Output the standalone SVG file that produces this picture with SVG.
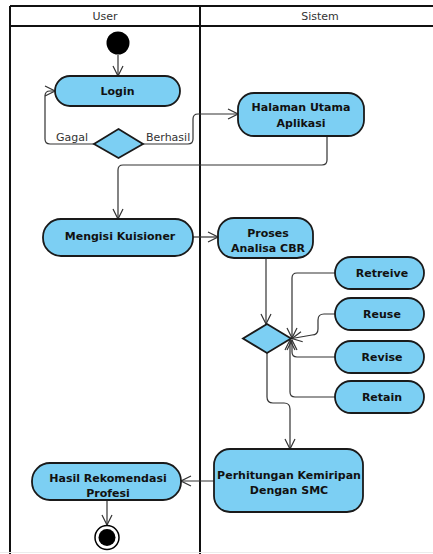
<svg xmlns="http://www.w3.org/2000/svg" width="433" height="554" viewBox="0 0 433 554">
  <style>
    .lane { stroke: #111; stroke-width: 2; fill: none; }
    .hdr { font-family: "DejaVu Sans", sans-serif; font-size: 11px; fill: #333; text-anchor: middle; }
    .act { fill: #7ccff3; stroke: #1a1a1a; stroke-width: 1.8; }
    .lbl { font-family: "DejaVu Sans", sans-serif; font-size: 11px; font-weight: bold; fill: #111; text-anchor: middle; }
    .guard { font-family: "DejaVu Sans", sans-serif; font-size: 11px; fill: #333; }
    .flow { fill: none; stroke: #333; stroke-width: 1.2; marker-end: url(#open); }
  </style>
  <defs>
    <marker id="open" viewBox="0 0 12 12" refX="11" refY="6" markerWidth="12" markerHeight="12" markerUnits="userSpaceOnUse" orient="auto">
      <path d="M1,1 L11,6 L1,11" fill="none" stroke="#333" stroke-width="1.2"/>
    </marker>
  </defs>

  <rect width="433" height="554" fill="#fff"/>

  <!-- swimlanes -->
  <g id="lanes">
    <line class="lane" x1="10" y1="6" x2="433" y2="6"/>
    <line class="lane" x1="10" y1="26" x2="433" y2="26"/>
    <line class="lane" x1="10" y1="6" x2="10" y2="554"/>
    <line class="lane" x1="200" y1="6" x2="200" y2="554"/>
    <line x1="0" y1="552.5" x2="433" y2="552.5" stroke="#ececec" stroke-width="1"/>
    <text class="hdr" x="105" y="20">User</text>
    <text class="hdr" x="320" y="20">Sistem</text>
  </g>

  <!-- connectors -->
  <g id="connectors">
    <path class="flow" d="M118,55 V76"/>
    <path class="flow" d="M94,144 H50 Q45,144 45,139 V96 Q45,91 50,91 H55"/>
    <path class="flow" d="M143,144 H188 Q193,144 193,139 V119 Q193,114 198,114 H238"/>
    <path class="flow" d="M327,136 V160 Q327,165 322,165 H123 Q118,165 118,170 V219"/>
    <path class="flow" d="M193,237 H218"/>
    <path class="flow" d="M266,258 V324"/>
    <path class="flow" d="M335,273 H297 Q292,273 292,278 V338"/>
    <path class="flow" d="M335,314 H324 Q318,314 318,320 V329 Q318,335 312,335 L292,338.5"/>
    <path class="flow" d="M335,357 H297 Q292,357 292,352 V340"/>
    <path class="flow" d="M335,397 H295 Q290,397 290,392 V340"/>
    <path class="flow" d="M267,353 V397 Q267,403 273,403 H284 Q290,403 290,409 V449"/>
    <path class="flow" d="M214,481 H181"/>
    <path class="flow" d="M107,500 V525"/>
    <text class="guard" x="56" y="141">Gagal</text>
    <text class="guard" x="146" y="141">Berhasil</text>
  </g>

  <!-- nodes -->
  <g id="start">
    <circle cx="118" cy="43" r="11.5" fill="#000"/>
  </g>
  <g id="login">
    <rect class="act" x="55" y="76" width="125" height="30" rx="15"/>
    <text class="lbl" x="117.5" y="95">Login</text>
  </g>
  <g id="decision-login">
    <polygon class="act" points="118.5,129 143,144 118.5,158 94,144"/>
  </g>
  <g id="halaman-utama">
    <rect class="act" x="238" y="93" width="126" height="43" rx="16"/>
    <text class="lbl" x="301" y="111">Halaman Utama</text>
    <text class="lbl" x="301" y="127">Aplikasi</text>
  </g>
  <g id="mengisi-kuisioner">
    <rect class="act" x="43" y="219" width="150" height="37" rx="18"/>
    <text class="lbl" x="120" y="240">Mengisi Kuisioner</text>
  </g>
  <g id="proses-analisa">
    <rect class="act" x="218" y="218" width="95" height="40" rx="16"/>
    <text class="lbl" x="268" y="237">Proses</text>
    <text class="lbl" x="268" y="252">Analisa CBR</text>
  </g>
  <g id="retreive">
    <rect class="act" x="335" y="257" width="89" height="32" rx="16"/>
    <text class="lbl" x="382" y="277">Retreive</text>
  </g>
  <g id="reuse">
    <rect class="act" x="335" y="298" width="89" height="32" rx="16"/>
    <text class="lbl" x="382" y="318">Reuse</text>
  </g>
  <g id="revise">
    <rect class="act" x="335" y="341" width="89" height="32" rx="16"/>
    <text class="lbl" x="382" y="361">Revise</text>
  </g>
  <g id="retain">
    <rect class="act" x="335" y="381" width="89" height="32" rx="16"/>
    <text class="lbl" x="382" y="401">Retain</text>
  </g>
  <g id="decision-cbr">
    <polygon class="act" points="267,324 291,338.5 267,353 243,338.5"/>
  </g>
  <g id="perhitungan">
    <rect class="act" x="214" y="449" width="149" height="63" rx="16"/>
    <text class="lbl" x="289" y="479">Perhitungan Kemiripan</text>
    <text class="lbl" x="289" y="494">Dengan SMC</text>
  </g>
  <g id="hasil-rekomendasi">
    <rect class="act" x="32" y="463" width="149" height="37" rx="18"/>
    <text class="lbl" x="108" y="482">Hasil Rekomendasi</text>
    <text class="lbl" x="108" y="497">Profesi</text>
  </g>
  <g id="end">
    <circle cx="107" cy="537.5" r="12" fill="#fff" stroke="#000" stroke-width="1.5"/>
    <circle cx="107" cy="537.5" r="8.5" fill="#000"/>
  </g>
</svg>
